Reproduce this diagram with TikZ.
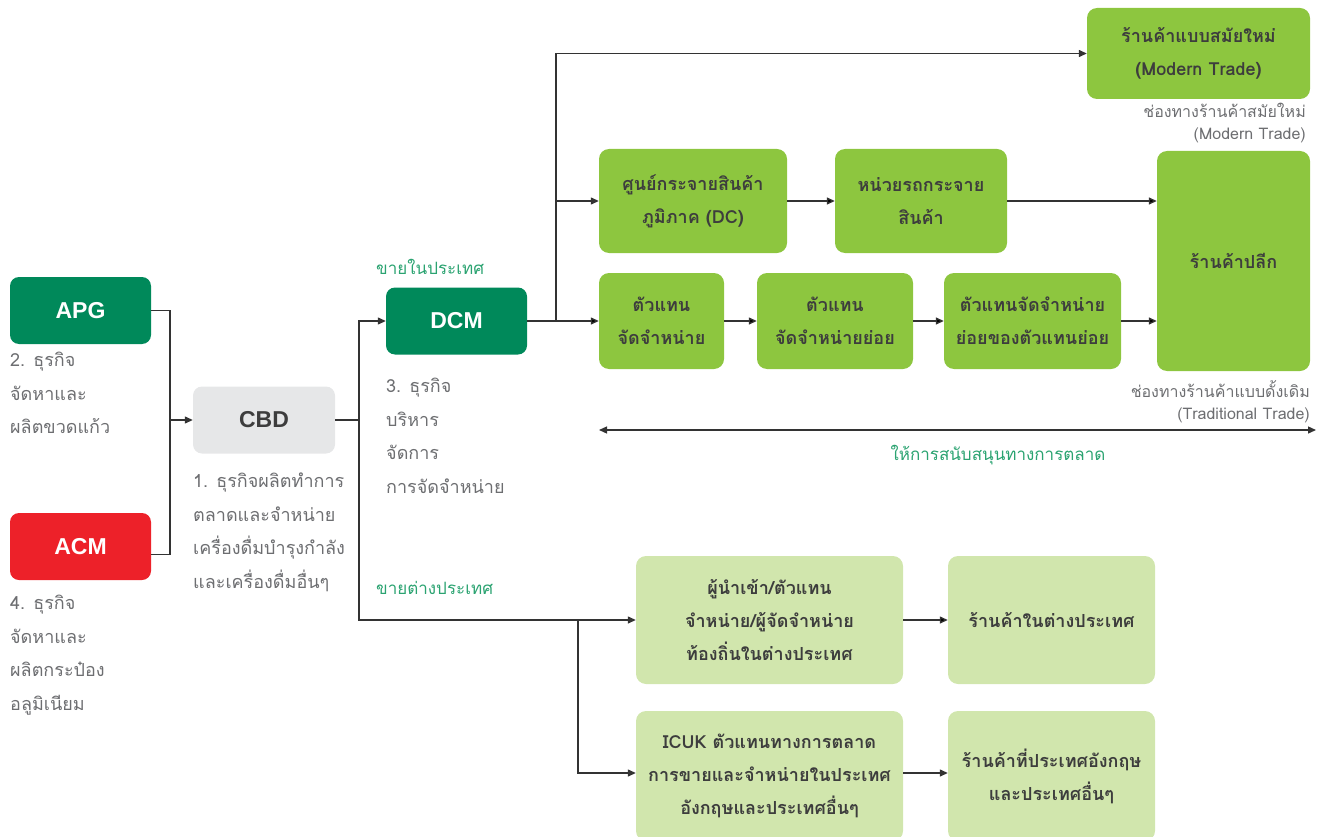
\documentclass[tikz,border=0pt]{standalone}
\usepackage{fontspec}
\setmainfont{Liberation Sans}
\newfontfamily\thaifont[Script=Thai]{Loma}
\usetikzlibrary{positioning, arrows.meta}

\definecolor{deepgreen}{HTML}{00895A}
\definecolor{acmred}{HTML}{ED2129}
\definecolor{cbdgray}{HTML}{E6E7E8}
\definecolor{leafgreen}{HTML}{8DC63F}
\definecolor{palegreen}{HTML}{D1E6AD}
\definecolor{labelgreen}{HTML}{2BA371}
\definecolor{notegray}{HTML}{6D6E71}
\definecolor{boxtext}{HTML}{3D3D3D}
\definecolor{wirecolor}{HTML}{333333}

\newcommand{\codefont}{\fontsize{23}{27}\selectfont\bfseries}
\newcommand{\boxfont}{\thaifont\bfseries\fontsize{18}{33}\selectfont}
\newcommand{\notefont}{\thaifont\fontsize{18}{33.5}\selectfont}
\newcommand{\smallnote}{\thaifont\fontsize{16}{22}\selectfont}

\begin{document}
\begin{tikzpicture} [x=1pt, y=-1pt,
    company/.style={rounded corners=9pt, inner sep=0pt, minimum width=141pt, minimum height=67pt, text=white, font=\codefont},
    channel/.style={rounded corners=10pt, inner sep=0pt, fill=leafgreen, text=boxtext, align=center, font=\boxfont},
    overseas/.style={channel, fill=palegreen},
    note/.style={inner sep=0pt, anchor=north west, align=left, text=notegray, font=\notefont},
    sidenote/.style={inner sep=0pt, anchor=north east, align=right, text=notegray, font=\smallnote},
    tag/.style={inner sep=0pt, text=labelgreen, font=\thaifont\fontsize{17}{20}\selectfont},
    wire/.style={draw=wirecolor, line width=1.3pt},
    arrow/.style={wire, -{Triangle[length=8pt, width=7pt]}}]
        \useasboundingbox (0,0) rectangle (1322,837);
        \clip (0,0) rectangle (1322,837);

        \node (APG)[company, fill=deepgreen] at (80.5,310.5) {APG};
        \node (ACM)[company, fill=acmred] at (80.5,546.5) {ACM};
        \node (CBD)[company, fill=cbdgray, text=boxtext, minimum width=142pt] at (264,420) {CBD};
        \node (DCM)[company, fill=deepgreen] at (456.5,321) {DCM};

        \node (MT)[channel, minimum width=223pt, minimum height=91pt] at (1198.5,53.5) {ร้านค้าแบบสมัยใหม่\\(Modern Trade)};
        \node (DC)[channel, minimum width=188pt, minimum height=104pt] at (693,201) {ศูนย์กระจายสินค้า\\ภูมิภาค (DC)};
        \node (TRUCK)[channel, minimum width=172pt, minimum height=104pt] at (921,201) {หน่วยรถกระจาย\\สินค้า};
        \node (RETAIL)[channel, minimum width=153pt, minimum height=220pt] at (1233.5,261) {ร้านค้าปลีก};
        \node (AGENT)[channel, minimum width=125pt, minimum height=96pt] at (661.5,321) {ตัวแทน\\จัดจำหน่าย};
        \node (SUBAGENT)[channel, minimum width=156pt, minimum height=96pt] at (835,321) {ตัวแทน\\จัดจำหน่ายย่อย};
        \node (SUBSUB)[channel, minimum width=177pt, minimum height=96pt] at (1032.5,321) {ตัวแทนจัดจำหน่าย\\ย่อยของตัวแทนย่อย};

        \node (IMPORT)[overseas, minimum width=267pt, minimum height=128pt] at (769.5,620) {ผู้นำเข้า/ตัวแทน\\จำหน่าย/ผู้จัดจำหน่าย\\ท้องถิ่นในต่างประเทศ};
        \node (ABROAD)[overseas, minimum width=207pt, minimum height=128pt] at (1051.5,620) {ร้านค้าในต่างประเทศ};
        \node (ICUK)[overseas, minimum width=267pt, minimum height=130pt] at (769.5,776) {ICUK ตัวแทนทางการตลาด\\การขายและจำหน่ายในประเทศ\\อังกฤษและประเทศอื่นๆ};
        \node (UKSHOP)[overseas, minimum width=207pt, minimum height=130pt] at (1051.5,776) {ร้านค้าที่ประเทศอังกฤษ\\และประเทศอื่นๆ};

        \node (APGNOTE)[note] at (10,352) {2. ธุรกิจ\\จัดหาและ\\ผลิตขวดแก้ว};
        \node (ACMNOTE)[note] at (10,595) {4. ธุรกิจ\\จัดหาและ\\ผลิตกระป๋อง\\อลูมิเนียม};
        \node (CBDNOTE)[note] at (193,473) {1. ธุรกิจผลิตทำการ\\ตลาดและจำหน่าย\\เครื่องดื่มบำรุงกำลัง\\และเครื่องดื่มอื่นๆ};
        \node (DCMNOTE)[note] at (386,378) {3. ธุรกิจ\\บริหาร\\จัดการ\\การจัดจำหน่าย};
        \node (MTNOTE)[sidenote] at (1306,103) {ช่องทางร้านค้าสมัยใหม่\\(Modern Trade)};
        \node (TTNOTE)[sidenote] at (1310,380) {ช่องทางร้านค้าแบบดั้งเดิม\\(Traditional Trade)};

        \node (LOCAL)[tag, anchor=west] at (376,267) {ขายในประเทศ};
        \node (EXPORT)[tag, anchor=west] at (376,588) {ขายต่างประเทศ};
        \node (SUPPORT)[tag] at (998,455) {ให้การสนับสนุนทางการตลาด};

        \coordinate (MERGE) at (170,420);
        \coordinate (SPLIT) at (359,420);
        \coordinate (BRANCH) at (556,321);
        \coordinate (FORK) at (578,620);
        \coordinate (SUPL) at (599,430);
        \coordinate (SUPR) at (1316,430);

        \draw [wire] (APG.east) -| (MERGE);
        \draw [wire] ([yshift=-8pt]ACM.east) -| (MERGE);
        \draw [arrow] (MERGE) -- (CBD.west);
        \draw [wire] (CBD.east) -- (SPLIT);
        \draw [arrow] (SPLIT) |- (DCM.west);
        \draw [arrow] (SPLIT) |- (IMPORT.west);
        \draw [arrow] (FORK) |- ([yshift=3pt]ICUK.west);
        \draw [arrow] (BRANCH) |- (MT.west);
        \draw [arrow] (BRANCH) |- (DC.west);
        \path [arrow]
        (DCM) edge (AGENT)
        (DC) edge (TRUCK)
        (TRUCK) edge (TRUCK -| RETAIL.west)
        (AGENT) edge (SUBAGENT)
        (SUBAGENT) edge (SUBSUB)
        (SUBSUB) edge (SUBSUB -| RETAIL.west)
        (IMPORT) edge (ABROAD);
        \draw [arrow] ([yshift=3pt]ICUK.east) -- ([yshift=3pt]UKSHOP.west);
        \draw [wire, {Triangle[length=8pt, width=7pt]}-{Triangle[length=8pt, width=7pt]}] (SUPL) -- (SUPR);
    \end{tikzpicture}
\end{document}
